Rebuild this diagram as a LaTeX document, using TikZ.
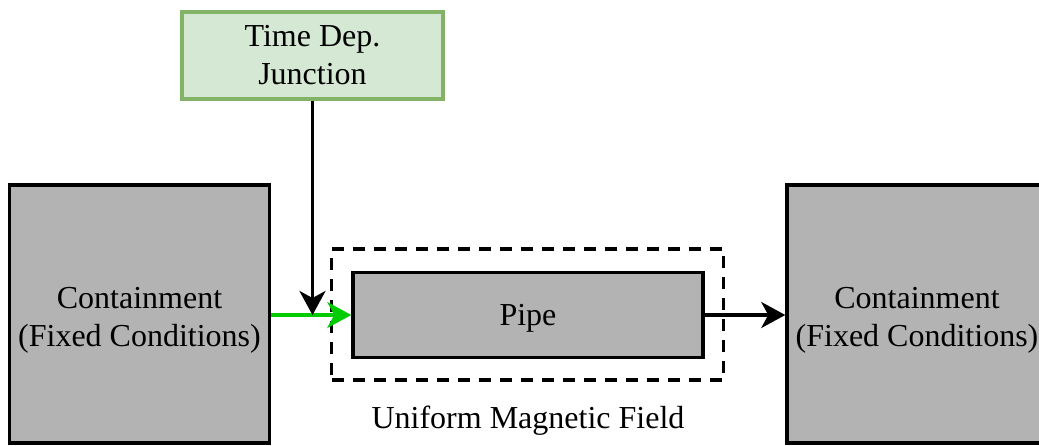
\documentclass[tikz,border=0pt]{standalone}
\usepackage{fontspec}
\setmainfont{Liberation Serif}
\usetikzlibrary{arrows.meta}
\definecolor{boxgray}{HTML}{B3B3B3}
\definecolor{tdfill}{HTML}{D5E8D4}
\definecolor{tdline}{HTML}{82B366}
\definecolor{flowgreen}{HTML}{00CC00}
\begin{document}
\begin{tikzpicture}[x=1pt,y=-1pt,
  every node/.style={font=\fontsize{32}{38}\selectfont, align=center, inner sep=0pt},
  graybox/.style={draw=black, fill=boxgray, line width=3.5pt},
  tdbox/.style={draw=tdline, fill=tdfill, line width=3.5pt},
  fieldbox/.style={draw=black, line width=3.5pt, dash pattern=on 12pt off 9pt},
  conn/.style={line width=3.5pt, -{Stealth[length=24pt,width=26pt,inset=7pt]}}
]
\useasboundingbox (0,0) rectangle (1039,445);
\begin{scope}
\clip (0,0) rectangle (1039,445);
\node[graybox, minimum width=260pt, minimum height=258pt] (cl) at (139.5,314) {\rule{0pt}{34pt}Containment\\(Fixed Conditions)};
\node[graybox, minimum width=260pt, minimum height=258pt] (cr) at (917,314) {\rule{0pt}{34pt}Containment\\(Fixed Conditions)};
\end{scope}
\node[fieldbox, minimum width=392pt, minimum height=131pt] (field) at (527.5,314.5) {};
\node[graybox, minimum width=350pt, minimum height=85pt] (pipe) at (528,315) {\rule{0pt}{27pt}Pipe};
\node[tdbox, minimum width=261pt, minimum height=87pt] (td) at (312.5,55.5) {Time Dep.\\Junction};
\node (lbl) at (528,421) {Uniform Magnetic Field};
\coordinate (j) at (td.south |- pipe.west);
\draw[conn, draw=flowgreen, fill=flowgreen] (cl.east |- pipe.west) -- (pipe.west);
\draw[conn] (td.south) -- (j);
\draw[conn] (pipe.east) -- (cr.west |- pipe.east);
\end{tikzpicture}
\end{document}
